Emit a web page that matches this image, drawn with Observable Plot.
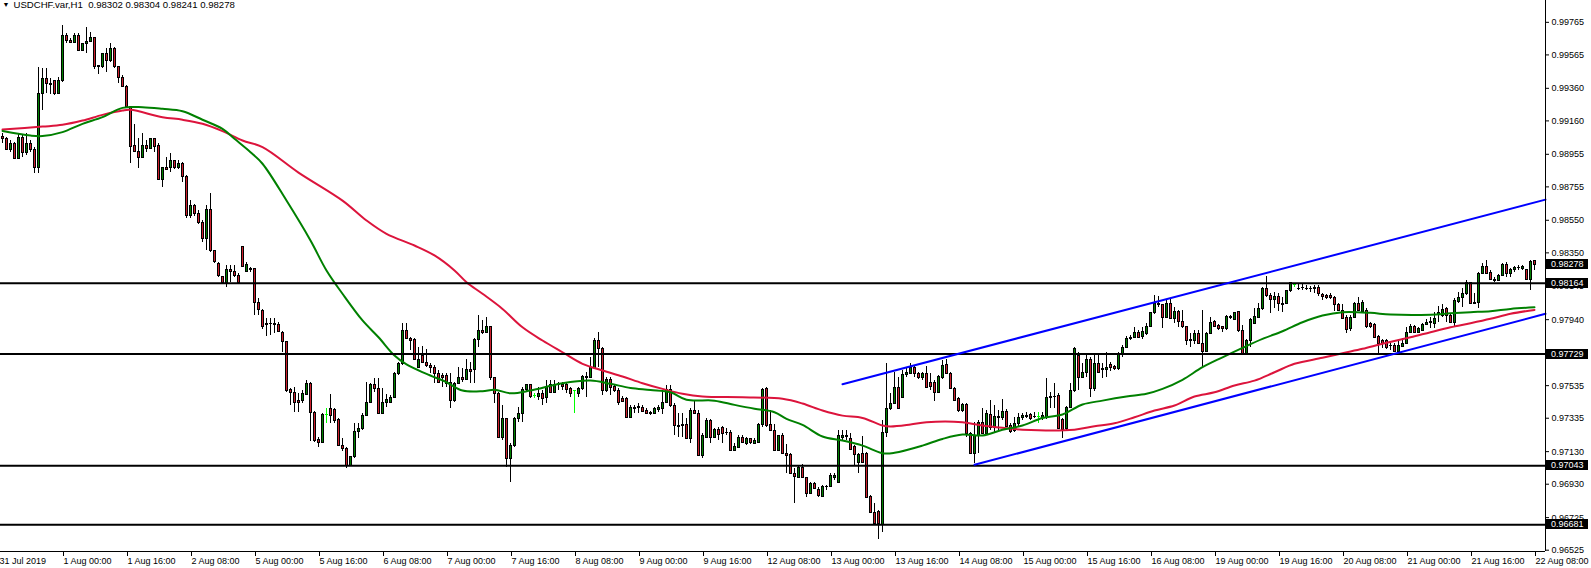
<!DOCTYPE html>
<html><head><meta charset="utf-8">
<script src="https://cdn.jsdelivr.net/npm/d3@7"></script>
<script src="https://cdn.jsdelivr.net/npm/@observablehq/plot@0.6"></script>
<style>body{margin:0;background:#fff}</style>
</head><body><div id="chart"></div>
<script>
// ---- data (prices in points, 1 point = 0.00001) ----
const symbolTitle = "USDCHF.var,H1  0.98302 0.98304 0.98241 0.98278";
const openPts = [
99064,99046,98984,99021,98929,99058,98966,99021,98984,98868,
99328,99420,99389,99402,99328,99402,99684,99653,99641,99684,
99592,99635,99647,99666,99488,99488,99568,99525,99604,99488,
99426,99371,99248,99003,98972,98935,99003,98990,99046,99003,
98800,98868,98868,98911,98868,98898,98818,98579,98640,98591,
98536,98438,98616,98364,98284,98199,98168,98242,98235,98211,
98389,98235,98254,98254,98045,97996,97916,97916,97910,97910,
97861,97800,97511,97492,97443,97443,97480,97548,97370,97204,
97186,97357,97394,97388,97327,97167,97149,97044,97094,97253,
97271,97351,97431,97536,97517,97364,97431,97431,97462,97609,
97670,97873,97824,97818,97646,97714,97677,97658,97646,97609,
97597,97597,97554,97443,97548,97579,97572,97628,97628,97818,
97873,97861,97892,97579,97486,97216,97333,97087,97167,97333,
97364,97511,97536,97474,97468,97486,97462,97536,97492,97548,
97542,97536,97517,97505,97486,97517,97585,97585,97646,97812,
97763,97505,97572,97529,97505,97456,97456,97339,97394,97400,
97400,97382,97364,97364,97388,97394,97431,97511,97413,97290,
97290,97296,97210,97382,97364,97106,97216,97321,97216,97265,
97278,97247,97247,97136,97155,97216,97179,97210,97179,97186,
97296,97517,97296,97259,97136,97229,97118,97112,96995,96971,
97032,96971,96872,96934,96897,96854,96915,96915,96971,96940,
97216,97223,97210,97161,97063,97118,97118,96854,96756,96762,
96682,97247,97394,97425,97523,97462,97603,97609,97646,97609,
97579,97609,97554,97554,97492,97585,97664,97609,97517,97456,
97382,97419,97241,97118,97223,97308,97241,97357,97278,97345,
97339,97376,97290,97259,97302,97339,97351,97357,97345,97345,
97339,97339,97462,97468,97474,97327,97271,97400,97505,97720,
97585,97615,97695,97517,97670,97628,97628,97664,97652,97640,
97732,97769,97824,97830,97861,97836,97855,97898,97978,98039,
98027,97953,98039,97947,97984,97928,97892,97806,97806,97855,
97793,97744,97855,97928,97904,97892,97885,97959,97941,97984,
97873,97732,97806,97916,97953,98008,98131,98088,98063,98082,
98039,98039,98113,98155,98131,98137,98131,98131,98131,98137,
98094,98088,98088,98076,98033,97996,97953,97885,97953,98039,
97990,97996,97916,97910,97836,97812,97806,97781,97781,97744,
97775,97793,97861,97892,97861,97873,97910,97922,97916,97971,
97965,98008,97965,97922,98051,98076,98100,98162,98039,98045,
98223,98266,98229,98186,98180,98211,98278,98223,98242,98260,
98254,98242,98186,98302];
const highPts = [
99082,99058,99039,99027,99082,99070,99082,99039,98997,99488,
99481,99481,99420,99408,99426,99745,99696,99666,99696,99696,
99635,99733,99703,99666,99500,99574,99604,99635,99610,99488,
99439,99377,99248,99138,99052,99082,99039,99052,99052,99021,
98874,98935,98960,98917,98917,98904,98825,98671,98647,98610,
98548,98640,98714,98364,98291,98199,98272,98272,98272,98223,
98389,98291,98260,98254,98070,98002,97947,97947,97947,97922,
97867,97806,97517,97523,97486,97505,97566,97554,97376,97216,
97364,97394,97480,97394,97333,97210,97155,97100,97302,97302,
97364,97554,97548,97579,97579,97517,97480,97474,97615,97677,
97916,97916,97830,97824,97769,97775,97757,97670,97658,97628,
97609,97609,97609,97554,97646,97640,97695,97677,97824,97965,
97935,97953,97898,97579,97492,97413,97333,97179,97339,97400,
97523,97542,97542,97486,97523,97505,97566,97566,97566,97554,
97554,97548,97523,97505,97523,97597,97615,97707,97824,97861,
97769,97585,97585,97536,97517,97468,97462,97413,97413,97425,
97413,97394,97376,97400,97413,97505,97536,97536,97425,97364,
97364,97333,97394,97443,97382,97241,97333,97327,97271,97278,
97284,97271,97259,97179,97229,97229,97216,97213,97210,97302,
97517,97523,97382,97296,97229,97241,97173,97118,97026,97044,
97050,96971,96940,96940,96909,96922,96922,96995,96995,97259,
97259,97259,97241,97167,97118,97223,97124,96860,96811,96768,
97321,97670,97486,97615,97585,97628,97646,97670,97652,97615,
97615,97652,97609,97566,97597,97689,97695,97615,97523,97462,
97425,97425,97247,97308,97321,97394,97382,97443,97413,97382,
97449,97388,97302,97339,97364,97364,97370,97364,97370,97370,
97370,97579,97492,97548,97486,97333,97407,97548,97769,97738,
97670,97720,97707,97720,97720,97670,97738,97677,97658,97738,
97781,97836,97842,97892,97873,97892,97916,97984,98088,98082,
98033,98063,98070,98014,97996,97996,97898,97855,97873,97873,
97996,97861,97953,97935,97910,97898,97965,97965,97984,97990,
97904,97818,97947,98008,98039,98137,98205,98100,98106,98100,
98076,98119,98168,98162,98162,98155,98149,98143,98149,98149,
98100,98094,98100,98082,98039,98033,97965,97965,98045,98076,
98057,98008,97922,97916,97842,97818,97818,97793,97793,97812,
97824,97892,97910,97904,97892,97916,97941,97953,97984,98020,
98033,98014,97978,98070,98106,98131,98180,98168,98100,98229,
98284,98303,98242,98199,98217,98284,98291,98254,98266,98272,
98272,98248,98303,98304];
const lowPts = [
99021,98978,98966,98923,98923,98935,98947,98966,98837,98837,
99224,99328,99322,99316,99322,99396,99635,99635,99635,99586,
99586,99574,99641,99475,99445,99481,99457,99518,99481,99389,
99365,99242,98898,98966,98868,98935,98966,98984,98966,98794,
98751,98855,98843,98861,98861,98782,98561,98561,98573,98524,
98413,98364,98352,98284,98199,98162,98137,98168,98199,98155,
98260,98229,98229,97965,97965,97879,97836,97842,97855,97861,
97738,97492,97413,97370,97370,97425,97474,97192,97186,97155,
97186,97302,97302,97302,97161,97130,97026,97038,97087,97210,
97259,97345,97425,97492,97357,97357,97400,97425,97456,97597,
97658,97818,97750,97689,97640,97670,97646,97609,97548,97548,
97523,97523,97394,97431,97542,97554,97566,97548,97548,97769,
97849,97855,97566,97425,97210,97198,97032,96940,97155,97308,
97308,97492,97456,97456,97443,97413,97425,97486,97486,97505,
97505,97486,97462,97364,97462,97505,97462,97579,97640,97646,
97474,97492,97474,97492,97413,97431,97333,97333,97364,97364,
97370,97357,97351,97357,97370,97357,97425,97400,97229,97216,
97216,97204,97179,97360,97100,97087,97210,97179,97210,97198,
97179,97229,97130,97130,97149,97179,97167,97176,97176,97179,
97278,97278,97253,97130,97130,97112,96995,96989,96811,96965,
96965,96848,96866,96897,96848,96848,96891,96909,96952,96934,
97198,97198,97136,97044,96995,97057,96842,96750,96682,96590,
96633,97216,97382,97419,97388,97456,97585,97603,97585,97572,
97566,97517,97505,97437,97486,97572,97603,97511,97437,97370,
97370,97216,97112,97057,97118,97235,97235,97259,97247,97259,
97321,97278,97241,97247,97278,97321,97333,97321,97333,97302,
97321,97327,97394,97394,97265,97210,97259,97394,97492,97505,
97579,97585,97462,97499,97609,97579,97585,97621,97628,97628,
97707,97763,97812,97824,97824,97818,97842,97892,97971,98014,
97885,97947,97941,97916,97892,97885,97781,97769,97787,97787,
97646,97738,97849,97892,97873,97861,97873,97941,97935,97861,
97726,97726,97769,97910,97947,97996,98076,97978,98008,97990,
97984,98033,98106,98137,98122,98119,98119,98106,98100,98082,
98057,98063,98063,97990,97990,97941,97855,97867,97947,97990,
97984,97885,97885,97824,97732,97763,97756,97750,97738,97738,
97769,97787,97855,97855,97855,97867,97904,97885,97885,97922,
97953,97922,97916,97892,98039,98014,98088,98033,98033,98008,
98217,98217,98180,98168,98174,98205,98199,98199,98229,98242,
98242,98180,98119,98241];
const closePts = [
99046,98984,99021,98929,99058,98966,99021,98984,98868,99328,
99420,99389,99383,99328,99402,99684,99653,99641,99684,99592,
99635,99647,99666,99488,99494,99568,99525,99604,99488,99426,
99371,99248,98997,98972,98935,99009,98990,99046,98997,98800,
98868,98861,98911,98868,98898,98818,98579,98640,98591,98536,
98438,98616,98364,98291,98205,98168,98242,98235,98205,98168,
98266,98278,98242,98045,98002,97898,97910,97913,97916,97867,
97800,97505,97492,97431,97431,97486,97548,97370,97198,97186,
97357,97357,97351,97321,97167,97149,97044,97094,97253,97271,
97351,97431,97536,97517,97364,97431,97449,97462,97609,97670,
97873,97824,97812,97695,97695,97677,97658,97646,97609,97554,
97585,97548,97443,97548,97579,97572,97634,97621,97818,97873,
97861,97892,97579,97486,97216,97333,97087,97167,97333,97364,
97511,97536,97468,97474,97486,97456,97523,97492,97542,97542,
97529,97511,97486,97505,97517,97591,97591,97646,97812,97763,
97505,97572,97523,97505,97431,97437,97339,97400,97400,97407,
97376,97364,97370,97394,97400,97431,97511,97413,97290,97284,
97296,97210,97382,97364,97106,97229,97321,97216,97265,97235,
97241,97245,97136,97161,97216,97186,97210,97180,97198,97296,
97511,97290,97259,97136,97223,97118,97106,96995,96977,97032,
96971,96872,96934,96903,96860,96915,96913,96983,96983,97223,
97229,97220,97143,97112,97112,97063,96848,96756,96688,96688,
97247,97394,97425,97523,97394,97603,97615,97646,97609,97579,
97609,97523,97529,97492,97591,97658,97609,97517,97443,97382,
97419,97241,97118,97223,97308,97241,97364,97278,97345,97339,
97376,97284,97253,97302,97339,97351,97345,97333,97343,97345,
97351,97462,97468,97466,97271,97265,97400,97505,97763,97585,
97615,97695,97517,97670,97615,97640,97646,97646,97640,97732,
97769,97824,97830,97861,97830,97867,97898,97978,98039,98027,
97953,98039,97947,97984,97928,97892,97806,97818,97855,97793,
97744,97855,97922,97898,97885,97885,97959,97953,97978,97873,
97732,97806,97935,97959,98008,98131,98088,98063,98082,98039,
98033,98113,98162,98155,98127,98133,98129,98126,98133,98100,
98082,98070,98076,98027,97996,97947,97879,97953,98039,97996,
98045,97892,97892,97830,97793,97793,97769,97779,97744,97781,
97793,97861,97892,97861,97885,97910,97922,97926,97947,97978,
98002,97965,97922,98057,98076,98100,98168,98039,98045,98223,
98266,98223,98186,98180,98211,98278,98223,98242,98260,98258,
98264,98186,98297,98278];

// moving averages (sampled at bar indices)
const fastMaBars = [0,7,10,15,20,25,30,35,40,45,50,55,58,62,65,71,77,81,85,90,94,98,101,106,111,115,120,123,127,132,140,147,152,157,162,167,171,178,183,188,193,196,200,205,210,215,220,223,230,235,240,245,250,255,260,265,270,275,281,286,290,295,300,305,310,315,320,325,330,335,342,347,357,362,367,372,377,383];
const fastMaPts = [99098,99070,99067,99091,99142,99183,99240,99244,99234,99219,99167,99111,99050,98968,98897,98671,98426,98242,98099,97935,97832,97720,97665,97607,97556,97505,97501,97510,97488,97505,97550,97566,97546,97521,97509,97494,97448,97443,97417,97393,97372,97331,97294,97223,97198,97167,97120,97123,97167,97208,97235,97229,97264,97290,97336,97358,97419,97443,97468,97485,97515,97571,97648,97709,97767,97822,97869,97924,97965,97986,97982,97971,97970,97979,97986,97992,98006,98016];
const slowMaBars = [0,10,15,20,25,30,32,40,45,50,55,60,65,74,85,91,96,103,108,113,116,120,125,130,135,140,145,150,155,160,165,170,175,185,195,200,205,210,215,220,222,227,231,240,245,250,255,268,273,278,283,288,293,298,303,308,313,318,323,330,335,340,345,352,357,362,367,372,377,383];
const slowMaPts = [99107,99125,99136,99162,99197,99224,99228,99183,99167,99142,99097,99040,98999,98843,98671,98549,98467,98395,98334,98242,98170,98099,98006,97893,97812,97740,97669,97628,97591,97550,97515,97485,97468,97464,97454,97425,97382,97351,97337,97290,97284,97296,97310,97310,97290,97276,97265,97265,97286,97304,97341,97382,97413,97468,97494,97536,97566,97617,97669,97706,97734,97761,97792,97832,97863,97893,97918,97945,97976,98000];

// channel trend lines: two anchor points each (bar, points)
const upperTrendBars = [210, 383];
const upperTrendPts = [97544, 98659];
const lowerTrendBars = [243, 383];
const lowerTrendPts = [97049, 97958];

// horizontal levels and labels
const levelPrices = [0.98164, 0.97729, 0.97043, 0.96681];
const lastPrice = 0.98278;
const yTickValues = [0.99765,0.99565,0.99360,0.99160,0.98955,0.98755,0.98550,0.98350,0.98145,0.97940,0.97735,0.97535,0.97335,0.97130,0.96930,0.96725,0.96525];
const xTickBars = [15,31,47,63,79,95,111,127,143,159,175,191,207,223,239,255,271,287,303,319,335,351,367,383];
const xTickLabels = ["1 Aug 00:00","1 Aug 16:00","2 Aug 08:00","5 Aug 00:00","5 Aug 16:00","6 Aug 08:00","7 Aug 00:00","7 Aug 16:00","8 Aug 08:00","9 Aug 00:00","9 Aug 16:00","12 Aug 08:00","13 Aug 00:00","13 Aug 16:00","14 Aug 08:00","15 Aug 00:00","15 Aug 16:00","16 Aug 08:00","19 Aug 00:00","19 Aug 16:00","20 Aug 08:00","21 Aug 00:00","21 Aug 16:00","22 Aug 08:00"];
const firstDateLabel = "31 Jul 2019";

// ---- build ----
const P = 1e5;
const bars = openPts.map((o, i) => {
  const O = o / P, C = closePts[i] / P;
  return {i, O, C, H: Math.max(highPts[i] / P, O, C), L: Math.min(lowPts[i] / P, O, C),
    dir: C > O ? "up" : C < O ? "down" : "flat"};
});
const fastMa = fastMaBars.map((b, k) => ({bar: b, price: fastMaPts[k] / P}));
const slowMa = slowMaBars.map((b, k) => ({bar: b, price: slowMaPts[k] / P}));

const xDomain = [-0.5, 385.75];
const yDomain = [0.96517, 0.99899];
function ray(bs, ps) {
  const slope = (ps[1] - ps[0]) / (bs[1] - bs[0]);
  return [{bar: bs[0], price: ps[0] / P}, {bar: xDomain[1], price: (ps[0] + slope * (xDomain[1] - bs[0])) / P}];
}
const upperTrend = ray(upperTrendBars, upperTrendPts);
const lowerTrend = ray(lowerTrendBars, lowerTrendPts);
const labelOf = new Map(xTickBars.map((b, k) => [b, xTickLabels[k]]));

const UP = "#008000", DOWN = "#cd1f2d", DOJI = "#00ff00";
const flat = bars.filter(d => d.dir === "flat");
const nonFlat = bars.filter(d => d.dir !== "flat");

const chart = Plot.plot({
  width: 1591, height: 568,
  marginLeft: 0, marginRight: 46, marginTop: 0, marginBottom: 17,
  style: {fontFamily: "'Liberation Sans', Arial, sans-serif", fontSize: "9px", background: "#fff", color: "#000"},
  x: {domain: xDomain, axis: null},
  y: {domain: yDomain, axis: null},
  marks: [
    Plot.axisY(yTickValues, {anchor: "right", tickSize: 3, tickPadding: 3, tickFormat: d => d.toFixed(5), fontSize: 9}),
    Plot.axisX(xTickBars, {anchor: "bottom", tickSize: 5, tickPadding: 1, tickFormat: d => labelOf.get(d), textAnchor: "start", dx: 1, fontSize: 9}),
    Plot.text([firstDateLabel], {frameAnchor: "bottom-left", lineAnchor: "top", dy: 6, dx: -1, textAnchor: "start", text: d => d, fontSize: 9}),
    // wicks
    Plot.ruleX(bars, {x: "i", y1: "L", y2: "H", stroke: d => d.dir === "flat" ? DOJI : "#000", strokeWidth: 1, shapeRendering: "crispEdges"}),
    // bodies
    Plot.rect(nonFlat, {x1: d => d.i - 0.25, x2: d => d.i + 0.25, y1: "O", y2: "C",
      fill: d => d.dir === "up" ? UP : DOWN, stroke: "#000", strokeWidth: 1, shapeRendering: "crispEdges"}),
    Plot.ruleY(flat, {y: "O", x1: d => d.i - 0.375, x2: d => d.i + 0.375, stroke: DOJI, strokeWidth: 1, shapeRendering: "crispEdges"}),
    // moving averages
    Plot.line(slowMa, {x: "bar", y: "price", stroke: "#dc143c", strokeWidth: 2, curve: "catmull-rom"}),
    Plot.line(fastMa, {x: "bar", y: "price", stroke: "#008000", strokeWidth: 2, curve: "catmull-rom"}),
    // horizontal levels
    Plot.ruleY(levelPrices, {stroke: "#000", strokeWidth: 2}),
    // channel
    Plot.line(upperTrend, {x: "bar", y: "price", stroke: "#0000ff", strokeWidth: 2}),
    Plot.line(lowerTrend, {x: "bar", y: "price", stroke: "#0000ff", strokeWidth: 2}),
    // frame lines (right and bottom)
    Plot.ruleY([yDomain[0]], {stroke: "#000", strokeWidth: 1}),
    Plot.ruleX([xDomain[1]], {stroke: "#000", strokeWidth: 1}),
    // title
    Plot.text(["\u25BC"], {frameAnchor: "top-left", lineAnchor: "top", dx: 2, dy: 2, text: d => d, fontSize: 7}),
    Plot.text([symbolTitle], {frameAnchor: "top-left", lineAnchor: "top", dx: 13, dy: 1, text: d => d, fontSize: 9.6, textAnchor: "start"})
  ]
});
document.getElementById("chart").append(chart);

// price boxes on the right axis, positioned via the plot's own y scale
const yScale = chart.scale("y");
const xRight = 1591 - 46;
const svg = d3.select(chart);
for (const p of [...levelPrices, lastPrice]) {
  const y = yScale.apply(p);
  const g = svg.append("g").attr("text-anchor", "start");
  g.append("rect").attr("x", xRight + 1).attr("y", Math.round(y) - 5).attr("width", 42).attr("height", 10).attr("fill", "#000");
  g.append("text").attr("x", xRight + 6).attr("y", y).attr("dy", "0.35em").attr("text-anchor", "start")
    .attr("fill", "#fff").attr("font-size", 9).text(p.toFixed(5));
}
</script>
</body></html>
